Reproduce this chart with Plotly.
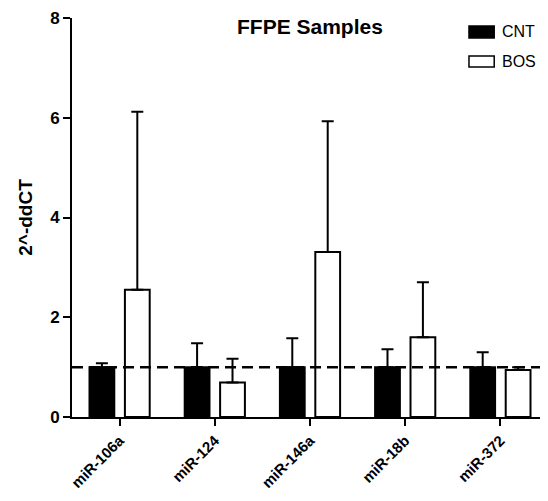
import plotly.graph_objects as go

categories = ["miR-106a", "miR-124", "miR-146a", "miR-18b", "miR-372"]
cnt_values = [1.0, 1.0, 1.0, 1.0, 1.0]
cnt_err = [0.08, 0.48, 0.58, 0.36, 0.30]
bos_values = [2.55, 0.69, 3.31, 1.60, 0.94]
bos_err = [3.57, 0.48, 2.62, 1.10, 0.06]
y_ticks = [0, 2, 4, 6, 8]
reference_level = 1.0

FONT = "Arial, Liberation Sans, Helvetica, sans-serif"

fig = go.Figure()
fig.add_trace(go.Bar(
    x=categories, y=cnt_values, name="CNT",
    marker=dict(color="black", line=dict(color="black", width=2)),
    error_y=dict(type="data", array=cnt_err, arrayminus=[0]*5, symmetric=False,
                 color="black", thickness=2, width=6),
))
fig.add_trace(go.Bar(
    x=categories, y=bos_values, name="BOS",
    marker=dict(color="white", line=dict(color="black", width=2)),
    error_y=dict(type="data", array=bos_err, arrayminus=[0]*5, symmetric=False,
                 color="black", thickness=2, width=6),
))

fig.add_shape(type="line", xref="paper", x0=0, x1=1, yref="y", y0=reference_level, y1=reference_level,
              line=dict(color="black", width=2.5, dash="11px,6px"), layer="above")

# custom legend (plot area spans 476 x 399 px)
legend_items = [("CNT", "black", 0.980, 0.950), ("BOS", "white", 0.905, 0.877)]
for name, col, ytop, ybot in legend_items:
    fig.add_shape(type="rect", xref="paper", yref="paper", x0=0.834, x1=0.887, y0=ybot, y1=ytop,
                  fillcolor=col, line=dict(color="black", width=1.5))
    fig.add_annotation(xref="paper", yref="paper", x=0.900, y=(ytop + ybot) / 2, text=name,
                       showarrow=False, xanchor="left", yanchor="middle",
                       font=dict(family=FONT, size=16, color="black"))

fig.add_annotation(xref="paper", yref="paper", x=0.50, y=1.0 - (27 - 18) / 399.0,
                   text="FFPE Samples", showarrow=False, xanchor="center", yanchor="middle",
                   font=dict(family=FONT, size=21, color="black", weight="bold"))

# page body has an 8px margin: compensate so the plot area lands at x 72..548, y 18..417
fig.update_layout(
    width=540, height=485,
    margin=dict(l=64, r=0, t=10, b=76),
    paper_bgcolor="white", plot_bgcolor="white",
    barmode="group", bargap=0.256, bargroupgap=0.30,
    showlegend=False,
    font=dict(family=FONT, color="black"),
)
fig.update_xaxes(
    showline=True, linecolor="black", linewidth=2,
    ticks="outside", ticklen=7, tickwidth=2, tickcolor="black",
    tickangle=-45, tickfont=dict(family=FONT, size=15, color="black", weight="bold"),
    range=[-0.5, 4.5], showgrid=False, zeroline=False, automargin=False,
)
fig.update_yaxes(
    showline=True, linecolor="black", linewidth=2,
    ticks="outside", ticklen=7, tickwidth=2, tickcolor="black",
    tickvals=y_ticks, range=[0, 8],
    tickfont=dict(family=FONT, size=17, color="black", weight="bold"),
    title=dict(text="2^-ddCT", font=dict(family=FONT, size=19, color="black", weight="bold"), standoff=12),
    showgrid=False, zeroline=False, automargin=False,
)

fig.write_html("out.html")
